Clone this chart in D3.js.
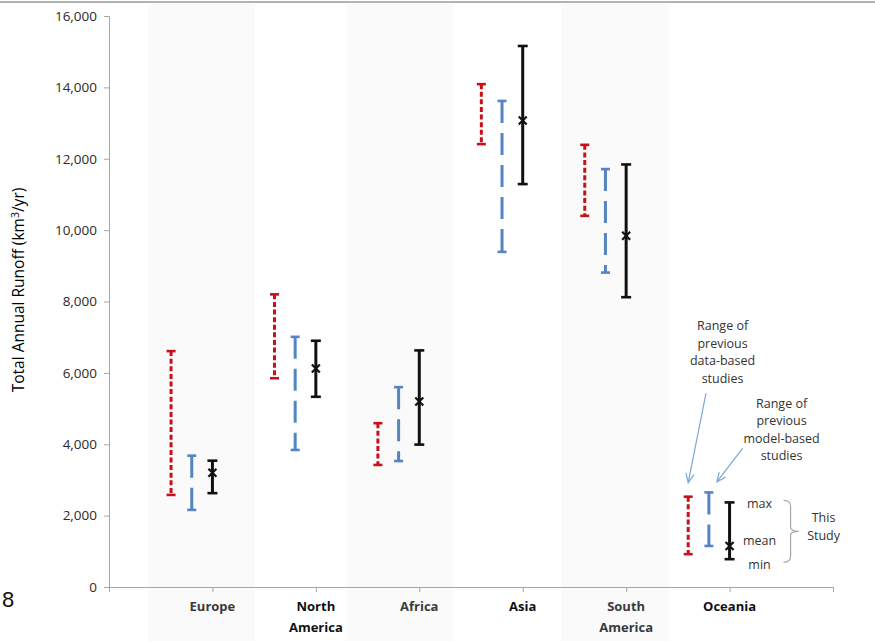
<!DOCTYPE html>
<html>
<head>
<meta charset="utf-8">
<script src="https://cdn.jsdelivr.net/npm/d3@7"></script>
<style>
  html, body { margin: 0; padding: 0; background: #fff; }
  svg { display: block; }
  text { font-family: "Open Sans", "Liberation Sans", sans-serif; }
</style>
</head>
<body>
<svg id="chart" width="875" height="641"></svg>
<script>
// Continental runoff ranges (km³/yr)
const categories = ["Europe", "North America", "Africa", "Asia", "South America", "Oceania"];

// Range of previous data-based studies
const dataMin = [2580, 5850, 3420, 12410, 10400, 920];
const dataMax = [6610, 8200, 4590, 14090, 12390, 2530];

// Range of previous model-based studies
const modelMin = [2160, 3840, 3530, 9390, 8810, 1150];
const modelMax = [3680, 7010, 5600, 13620, 11710, 2650];

// This study: min / mean / max
const studyMin  = [2630, 5330, 3990, 11290, 8120, 780];
const studyMean = [3200, 6120, 5200, 13070, 9840, 1150];
const studyMax  = [3540, 6900, 6630, 15160, 11840, 2370];

const yTicks = [0, 2000, 4000, 6000, 8000, 10000, 12000, 14000, 16000];

// Shaded background columns, in category units
const shadeBands = [[0.38, 1.41], [2.29, 3.33], [4.37, 5.41]];

const svg = d3.select("#chart");
const W = 875, H = 641;

const x = d3.scaleLinear().domain([0, 7]).range([109, 833]);
const y = d3.scaleLinear().domain([0, 16000]).range([587, 16]);

// top rule
svg.append("line")
  .attr("x1", 0).attr("x2", W).attr("y1", 2).attr("y2", 2)
  .attr("stroke", "#9a9a9a").attr("stroke-width", 1.5);

// background columns
svg.append("g").selectAll("rect").data(shadeBands).join("rect")
  .attr("x", d => x(d[0])).attr("width", d => x(d[1]) - x(d[0]))
  .attr("y", 4).attr("height", H - 4)
  .attr("fill", "#fafafa");

// y axis
const yAxis = d3.axisLeft(y).tickValues(yTicks).tickSize(5).tickPadding(7)
  .tickFormat(d3.format(","));
const gy = svg.append("g").attr("transform", `translate(${x(0)},0)`).call(yAxis);
gy.select(".domain").attr("stroke", "#a6a6a6");
gy.selectAll(".tick line").attr("stroke", "#a6a6a6");
gy.selectAll(".tick text").attr("fill", "#2a2a2a").style("font-size", "13.5px")
  .style("font-family", "'Open Sans', sans-serif");

// x axis (ticks at every category unit, labels drawn separately)
const xAxis = d3.axisBottom(x).tickValues(d3.range(0, 8)).tickSize(5).tickFormat("")
  .tickSizeOuter(0);
const gx = svg.append("g").attr("transform", `translate(0,${y(0)})`).call(xAxis);
gx.select(".domain").attr("stroke", "#a6a6a6");
gx.selectAll(".tick line").attr("stroke", "#a6a6a6");

// category labels
const catG = svg.append("g");
categories.forEach((c, i) => {
  const words = c.split(" ");
  const t = catG.append("text")
    .attr("x", x(i + 1)).attr("y", 611)
    .attr("text-anchor", "middle")
    .attr("fill", i % 2 === 0 ? "#3a3a3a" : "#111")
    .style("font-size", "13px").style("font-weight", "bold");
  words.forEach((w, k) => {
    t.append("tspan").attr("x", x(i + 1)).attr("dy", k === 0 ? 0 : 21).text(w);
  });
});

// y axis title
svg.append("text")
  .attr("transform", `translate(24,${290}) rotate(-90)`)
  .attr("text-anchor", "middle")
  .attr("fill", "#000")
  .style("font-size", "15.5px")
  .html('Total Annual Runoff (km<tspan dy="-5" font-size="10.5px">3</tspan><tspan dy="5">/yr)</tspan>');

// page number
svg.append("text").attr("x", 2).attr("y", 607)
  .style("font-family", "'Liberation Sans', Arial, sans-serif")
  .style("font-size", "22px").attr("fill", "#111").text("8");

// error-bar drawer
function rangeBar(g, cx, lo, hi, color, dash, capW) {
  g.append("line")
    .attr("x1", cx).attr("x2", cx).attr("y1", y(hi)).attr("y2", y(lo))
    .attr("stroke", color).attr("stroke-width", 3)
    .attr("stroke-dasharray", dash || null);
  [hi, lo].forEach(v => {
    g.append("line")
      .attr("x1", cx - capW / 2).attr("x2", cx + capW / 2)
      .attr("y1", y(v)).attr("y2", y(v))
      .attr("stroke", color).attr("stroke-width", 2.6);
  });
}

const bars = svg.append("g");
const RED = "#c8101a", BLUE = "#5584c2", BLACK = "#111";
categories.forEach((c, i) => {
  const cx = x(i + 1);
  rangeBar(bars, x(i + 1 - 0.4), dataMin[i], dataMax[i], RED, "5,2.6", 9);
  rangeBar(bars, x(i + 1 - 0.2), modelMin[i], modelMax[i], BLUE, "22,10", 9);
  rangeBar(bars, cx, studyMin[i], studyMax[i], BLACK, null, 10);
  // mean marker
  const my = y(studyMean[i]), s = 4;
  bars.append("path")
    .attr("d", `M${cx - s},${my - s}L${cx + s},${my + s}M${cx - s},${my + s}L${cx + s},${my - s}`)
    .attr("stroke", BLACK).attr("stroke-width", 2.2).attr("fill", "none");
});

// legend annotations beside Oceania
const oi = categories.length - 1;
const ox = x(oi + 1);
const ann = svg.append("g").attr("fill", "#333").style("font-size", "12.5px");

function lines(cx, y0, arr) {
  arr.forEach((s, k) => {
    ann.append("text").attr("x", cx).attr("y", y0 + k * 17.6)
      .attr("text-anchor", "middle").text(s);
  });
}
lines(ox - 7, 330, ["Range of", "previous", "data-based", "studies"]);
lines(ox + 52, 407.5, ["Range of", "previous", "model-based", "studies"]);

function arrow(x1, y1, x2, y2) {
  const a = Math.atan2(y2 - y1, x2 - x1), L = 10, sp = 0.42;
  ann.append("path")
    .attr("d", `M${x1},${y1}L${x2},${y2}` +
      `M${x2 - L * Math.cos(a - sp)},${y2 - L * Math.sin(a - sp)}L${x2},${y2}` +
      `L${x2 - L * Math.cos(a + sp)},${y2 - L * Math.sin(a + sp)}`)
    .attr("stroke", "#7ea6d8").attr("stroke-width", 1.2).attr("fill", "none");
}
arrow(ox - 23.6, 393.3, x(oi + 1 - 0.4), y(dataMax[oi]) - 14);
arrow(ox + 13, 448.3, x(oi + 1 - 0.2) + 8, y(modelMax[oi]) - 10.5);

// max / mean / min labels
[["max", studyMax[oi], 5.5], ["mean", studyMean[oi], -1], ["min", studyMin[oi], 9.5]].forEach(([t, v, dy]) => {
  ann.append("text").attr("x", ox + 30).attr("y", y(v) + dy)
    .attr("text-anchor", "middle").text(t);
});

// brace grouping this study's labels
const bx = ox + 61, bTop = y(studyMax[oi]) - 2, bBot = y(studyMin[oi]) + 3, bMid = (bTop + bBot) / 2;
svg.append("path")
  .attr("d", `M${bx - 7},${bTop} Q${bx},${bTop} ${bx},${bTop + 6} L${bx},${bMid - 4} Q${bx},${bMid} ${bx + 8},${bMid}` +
    ` Q${bx},${bMid} ${bx},${bMid + 4} L${bx},${bBot - 6} Q${bx},${bBot} ${bx - 7},${bBot}`)
  .attr("stroke", "#a6a6a6").attr("stroke-width", 1.2).attr("fill", "none");
lines(ox + 94, 522, ["This", "Study"]);
</script>
</body>
</html>
